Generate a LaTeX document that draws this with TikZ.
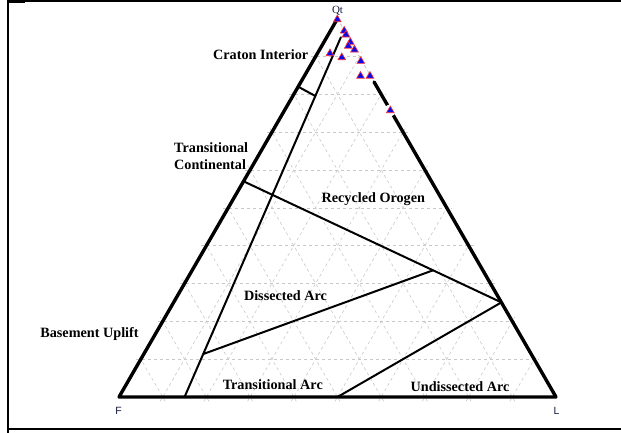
\documentclass[tikz,border=0pt]{standalone}
\usepackage{fontspec}
\setmainfont{Liberation Serif}
\newfontfamily\axisfont{Liberation Sans}
\usetikzlibrary{calc,shapes.geometric}
\definecolor{gridgray}{RGB}{200,200,200}
\definecolor{axisnavy}{RGB}{20,25,60}
\definecolor{mkblue}{RGB}{10,10,235}
\definecolor{mkred}{RGB}{255,50,50}
\begin{document}
\begin{tikzpicture}[x=1pt,y=-1pt,
  gridline/.style={draw=gridgray, line width=0.6pt, dash pattern=on 3pt off 3pt, shorten <=-5pt, shorten >=-5pt},
  edgeline/.style={line width=3.4pt, line join=round, line cap=round},
  fieldline/.style={line width=2pt, line cap=round},
  framethin/.style={line width=1.2pt},
  framethick/.style={line width=2.4pt},
  fieldlabel/.style={font=\fontsize{14.2}{16.7}\selectfont\bfseries, text=black, inner sep=0pt, anchor=base},
  axislabel/.style={font=\axisfont\fontsize{10.5}{11}\selectfont, text=axisnavy, inner sep=0pt, anchor=base},
  mk/.style={regular polygon, regular polygon sides=3, minimum size=9pt, inner sep=0pt, draw=mkred, fill=mkblue, line width=0.6pt}]
\useasboundingbox (0,0) rectangle (621,433);

% frame
\coordinate (frTL) at (7,1);
\coordinate (frTR) at (621,1);
\coordinate (frStubA) at (7,1.6);
\coordinate (frStubB) at (25,1.6);
\coordinate (frLT) at (7.5,0);
\coordinate (frLB) at (7.5,433);
\coordinate (frBL) at (6.5,429);
\coordinate (frBR) at (621,429);
\draw[framethin] (frTL) -- (frTR);
\draw[framethick] (frStubA) -- (frStubB);
\draw[line width=2pt] (frLT) -- (frLB);
\draw[line width=2.6pt] (frBL) -- (frBR);

% triangle vertices
\coordinate (Q) at (337.5,18.6);
\coordinate (F) at (119,397);
\coordinate (L) at (556,397);

% grid
\foreach \k in {1,...,9}{
  \pgfmathsetmacro\t{\k/10}
  \draw[gridline] ($(F)!\t!(Q)$) -- ($(L)!\t!(Q)$);
  \draw[gridline] ($(F)!\t!(L)$) -- ($(Q)!\t!(L)$);
  \draw[gridline] ($(L)!\t!(F)$) -- ($(Q)!\t!(F)$);
}

% triangle edges
\coordinate (re1) at ($(Q)!0.1675!(L)$);
\draw[gridline, shorten <=0pt, shorten >=0pt, draw=gray!60] (Q) -- (re1);
\draw[edgeline] (re1) -- (L) -- (F) -- (Q);

% field boundaries
\coordinate (l1a) at (barycentric cs:Q=0.97,F=0,L=0.03);
\coordinate (l1b) at (barycentric cs:Q=0,F=0.85,L=0.15);
\coordinate (l1top) at ($(l1a)!0.02!(l1b)$);
\draw[fieldline] (l1top) -- (l1b);

\coordinate (c1) at (barycentric cs:Q=0.82,F=0.18,L=0);
\coordinate (c2) at ($(l1a)!0.18!(l1b)$);
\draw[fieldline] (c1) -- (c2);

\coordinate (r1) at (barycentric cs:Q=0.57,F=0.43,L=0);
\coordinate (r2) at (barycentric cs:Q=0.25,F=0,L=0.75);
\draw[fieldline] (r1) -- (r2);

\coordinate (d1) at ($(l1a)!0.883!(l1b)$);
\coordinate (d2) at ($(r1)!0.735!(r2)$);
\draw[fieldline] (d1) -- (d2);

\coordinate (u1) at (barycentric cs:Q=0,F=0.5,L=0.5);
\draw[fieldline] (u1) -- (r2);

% field labels
\node[fieldlabel] (craton) at (260.7,59.3) {Craton Interior};
\node[fieldlabel, anchor=base west] (transcontA) at (174,152.7) {Transitional};
\node[fieldlabel, anchor=base west] (transcontB) at (174,169.3) {Continental};
\node[fieldlabel] (recycled) at (373.3,202.7) {Recycled Orogen};
\node[fieldlabel] (dissected) at (285.5,300.7) {Dissected Arc};
\node[fieldlabel] (basement) at (89.5,337.5) {Basement Uplift};
\node[fieldlabel] (transarc) at (272.8,389.3) {Transitional Arc};
\node[fieldlabel] (undissected) at (460,391.7) {Undissected Arc};

% axis labels
\node[axislabel, font=\fontsize{11}{11}\selectfont] (qtlabel) at (337.5,14) {Qt};
\node[axislabel] (flabel) at (118.5,414.5) {F};
\node[axislabel] (llabel) at (556.5,414.5) {L};

% data markers
\coordinate (halo) at (390.3,110.3);
\fill[white] (halo) circle (5.8pt);
\foreach \i/\px/\py in {1/337.3/19.5, 2/344.2/30.9, 3/346/34.8, 4/350.3/42.2, 5/348.3/46,
  6/354.5/49.8, 7/330/53.5, 8/341.8/57.5, 9/360.8/61.2, 10/360.5/76, 11/370/76, 12/390.3/110.5}{
  \node[mk] (m\i) at (\px,\py) {};
}
\end{tikzpicture}
\end{document}
